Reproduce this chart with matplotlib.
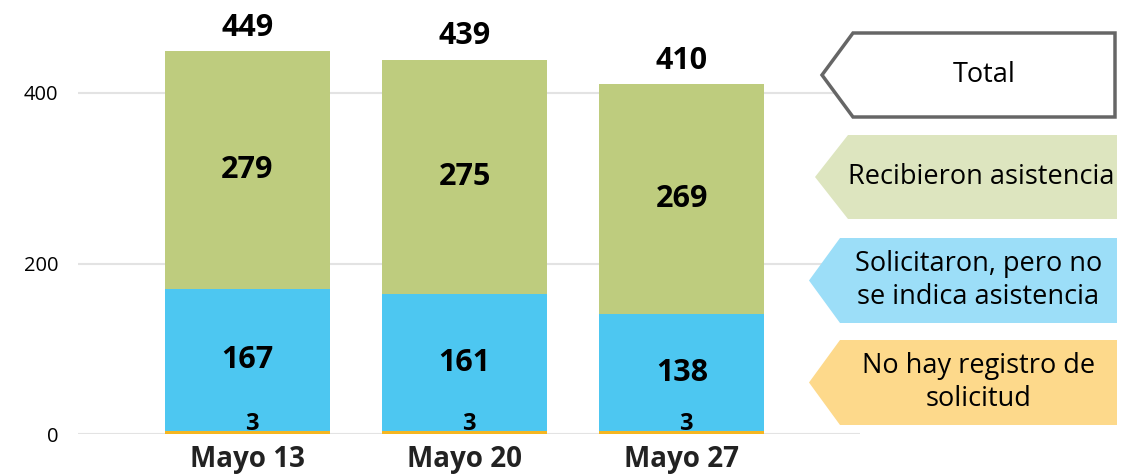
import matplotlib
matplotlib.use("Agg")
import matplotlib.pyplot as plt
from matplotlib.patches import Polygon

plt.rcParams['font.family'] = ['Open Sans', 'DejaVu Sans']

categories = ["Mayo 13", "Mayo 20", "Mayo 27"]
no_registro = [3, 3, 3]
solicitaron = [167, 161, 138]
recibieron = [279, 275, 269]
totales = [449, 439, 410]
yticks = [0, 200, 400]

legend_labels = ["Total", "Recibieron asistencia",
                 "Solicitaron, pero no\nse indica asistencia",
                 "No hay registro de\nsolicitud"]

c_yellow = "#F5B622"
c_blue = "#4DC7F1"
c_green = "#BECC7E"
l_green = "#DDE5BF"
l_blue = "#9CDEF8"
l_yellow = "#FDD98B"

W, H = 1131, 476
fig = plt.figure(figsize=(W / 100, H / 100), dpi=100)

ax_l, ax_r, ax_b, ax_t = 78, 860, 434, 0
ax = fig.add_axes([ax_l / W, 1 - ax_b / H, (ax_r - ax_l) / W, (ax_b - ax_t) / H])
ppu = 341 / 400.0
ax.set_ylim(0, (ax_b - ax_t) / ppu)
x = list(range(len(categories)))
ax.set_xlim(-0.78, 2.82)

bw = 0.76
ax.bar(x, no_registro, bw, color=c_yellow, zorder=2)
ax.bar(x, solicitaron, bw, bottom=no_registro, color=c_blue, zorder=2)
bott2 = [a + b for a, b in zip(no_registro, solicitaron)]
ax.bar(x, recibieron, bw, bottom=bott2, color=c_green, zorder=2)

for i in x:
    ax.text(i + 0.02, no_registro[i] + 1.5, str(no_registro[i]), ha='center', va='baseline',
            fontsize=17, fontweight='bold', color='black', zorder=3)
    ax.text(i, no_registro[i] + solicitaron[i] / 2, str(solicitaron[i]), ha='center', va='center',
            fontsize=22, fontweight='bold', color='black', zorder=3)
    ax.text(i, bott2[i] + recibieron[i] / 2, str(recibieron[i]), ha='center', va='center',
            fontsize=22, fontweight='bold', color='black', zorder=3)
    ax.annotate(str(totales[i]), (i, totales[i]), xytext=(0, 11), textcoords='offset points',
                ha='center', va='baseline', fontsize=22, fontweight='bold', color='black')

ax.set_yticks(yticks)
ax.set_yticklabels([str(v) for v in yticks], fontsize=14.5)
ax.set_xticks(x)
ax.set_xticklabels(categories, fontsize=20, fontweight='bold', color='#222222')
ax.tick_params(axis='both', length=0)
ax.tick_params(axis='y', pad=14)
ax.tick_params(axis='x', pad=8)
ax.grid(axis='y', color='#E3E3E3', linewidth=1.5, zorder=0)
for s in ax.spines.values():
    s.set_visible(False)


def fpt(px, py):
    return (px / W, 1 - py / H)


def arrow_box(tip_x, body_l, body_r, top, bot, fc, ec, lw):
    cy = (top + bot) / 2
    pts = [fpt(tip_x, cy), fpt(body_l, top), fpt(body_r, top), fpt(body_r, bot), fpt(body_l, bot)]
    p = Polygon(pts, closed=True, transform=fig.transFigure, facecolor=fc,
                edgecolor=ec, linewidth=lw, zorder=5)
    fig.patches.append(p)
    return cy

boxes = [
    (822, 853, 1115, 33, 117, 'white', '#666666', 2.5),
    (815, 848, 1117, 135, 219, l_green, 'none', 0),
    (809, 840, 1117, 238, 323, l_blue, 'none', 0),
    (809, 840, 1117, 340, 425, l_yellow, 'none', 0),
]
for (tx, bl, br, t, b, fc, ec, lw), lab in zip(boxes, legend_labels):
    cy = arrow_box(tx, bl, br, t, b, fc, ec, lw)
    cx = (bl + br) / 2 - (1 if lab.startswith("Recib") else 0)
    fig.text(cx / W, 1 - cy / H, lab, ha='center', va='center', fontsize=19.5,
             color='black', zorder=6, linespacing=1.2)

fig.savefig("out.png", dpi=100)
